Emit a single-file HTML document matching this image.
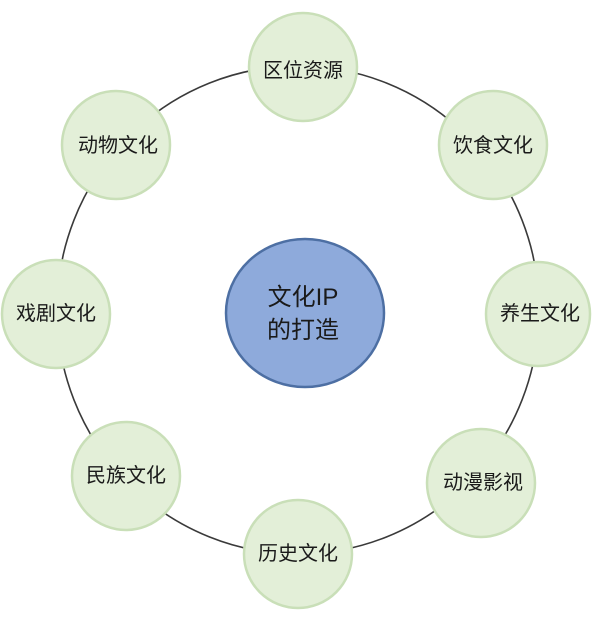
<!DOCTYPE html>
<html><head><meta charset="utf-8"><style>
html,body{margin:0;padding:0;background:#fff;}
svg{display:block;}
text{font-family:"Liberation Sans","Noto Sans CJK SC",sans-serif;fill:#1a1a1a;}
</style></head><body>
<svg width="600" height="622" viewBox="0 0 600 622" xmlns="http://www.w3.org/2000/svg">
<ellipse cx="298" cy="310" rx="241" ry="244" fill="none" stroke="#3a3a3a" stroke-width="1.6"/>
<g fill="#e3efd8" stroke="#c9dfb8" stroke-width="2.5">
<circle cx="303" cy="67" r="54"/>
<circle cx="493" cy="145" r="54"/>
<circle cx="538" cy="314" r="52"/>
<circle cx="481" cy="483" r="54"/>
<circle cx="298" cy="554" r="54"/>
<circle cx="126" cy="476" r="54"/>
<circle cx="56" cy="314" r="54"/>
<circle cx="116" cy="145" r="54"/>
</g>
<ellipse cx="305" cy="313" rx="79" ry="74" fill="#8eaadb" stroke="#4d6fa3" stroke-width="2.5"/>
<g font-size="20" text-anchor="middle">
<text x="303" y="77">区位资源</text>
<text x="493" y="152">饮食文化</text>
<text x="540" y="320">养生文化</text>
<text x="483" y="489">动漫影视</text>
<text x="298" y="560">历史文化</text>
<text x="126" y="482">民族文化</text>
<text x="56" y="320">戏剧文化</text>
<text x="118" y="152">动物文化</text>
</g>
<g font-size="24" text-anchor="middle">
<text x="303" y="305">文化IP</text>
<text x="303" y="338">的打造</text>
</g>
</svg>
</body></html>
